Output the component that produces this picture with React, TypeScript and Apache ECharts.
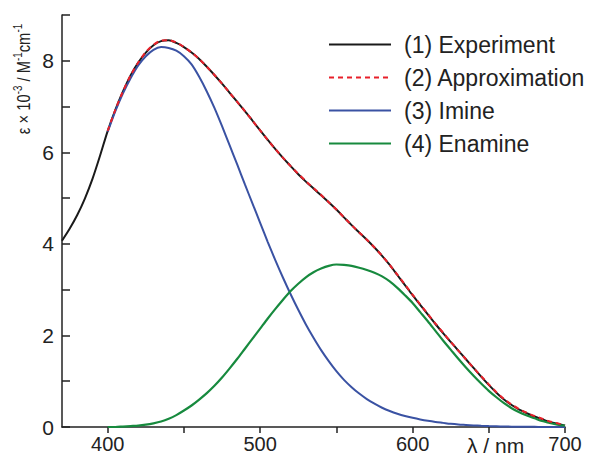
import React, { useEffect, useRef } from 'react';
import * as echarts from 'echarts';

// Wavelengths (nm), 5 nm steps
const expWavelengths = [370, 375, 380, 385, 390, 395, 400, 405, 410, 415, 420, 425, 430, 435, 440, 445, 450, 455, 460, 465, 470, 475, 480, 485, 490, 495, 500, 505, 510, 515, 520, 525, 530, 535, 540, 545, 550, 555, 560, 565, 570, 575, 580, 585, 590, 595, 600, 605, 610, 615, 620, 625, 630, 635, 640, 645, 650, 655, 660, 665, 670, 675, 680, 685, 690, 695, 700];
const experiment = [4.07, 4.33, 4.63, 4.99, 5.42, 5.93, 6.47, 6.93, 7.33, 7.68, 7.96, 8.18, 8.34, 8.43, 8.45, 8.39, 8.30, 8.18, 8.04, 7.87, 7.69, 7.50, 7.30, 7.10, 6.90, 6.69, 6.48, 6.27, 6.07, 5.88, 5.70, 5.52, 5.36, 5.21, 5.06, 4.91, 4.75, 4.58, 4.41, 4.25, 4.09, 3.92, 3.74, 3.54, 3.32, 3.10, 2.88, 2.67, 2.46, 2.25, 2.05, 1.86, 1.67, 1.48, 1.29, 1.10, 0.92, 0.75, 0.60, 0.48, 0.38, 0.30, 0.23, 0.17, 0.11, 0.07, 0.03];

const approxWavelengths = [400, 405, 410, 415, 420, 425, 430, 435, 440, 445, 450, 455, 460, 465, 470, 475, 480, 485, 490, 495, 500, 505, 510, 515, 520, 525, 530, 535, 540, 545, 550, 555, 560, 565, 570, 575, 580, 585, 590, 595, 600, 605, 610, 615, 620, 625, 630, 635, 640, 645, 650, 655, 660, 665, 670, 675, 680, 685, 690, 695, 700];
const approximation = [6.47, 6.93, 7.33, 7.68, 7.96, 8.19, 8.35, 8.44, 8.45, 8.40, 8.30, 8.18, 8.04, 7.87, 7.69, 7.50, 7.30, 7.10, 6.90, 6.69, 6.48, 6.27, 6.07, 5.88, 5.70, 5.53, 5.37, 5.22, 5.07, 4.91, 4.75, 4.58, 4.41, 4.25, 4.09, 3.92, 3.74, 3.54, 3.33, 3.11, 2.89, 2.68, 2.47, 2.26, 2.06, 1.86, 1.67, 1.48, 1.29, 1.11, 0.93, 0.76, 0.61, 0.49, 0.39, 0.31, 0.24, 0.18, 0.12, 0.08, 0.04];

const imineWavelengths = approxWavelengths;
const imine = [6.45, 6.90, 7.29, 7.62, 7.90, 8.10, 8.24, 8.30, 8.28, 8.22, 8.10, 7.92, 7.65, 7.33, 6.97, 6.57, 6.15, 5.73, 5.30, 4.88, 4.46, 4.04, 3.64, 3.26, 2.90, 2.56, 2.24, 1.95, 1.68, 1.44, 1.22, 1.03, 0.87, 0.73, 0.61, 0.51, 0.42, 0.35, 0.29, 0.24, 0.20, 0.165, 0.135, 0.11, 0.09, 0.07, 0.055, 0.045, 0.035, 0.027, 0.02, 0.015, 0.011, 0.008, 0.006, 0.004, 0.003, 0.002, 0.001, 0.001, 0.0];

const enamineWavelengths = approxWavelengths;
const enamine = [0.00, 0.00, 0.01, 0.02, 0.03, 0.05, 0.08, 0.12, 0.18, 0.26, 0.36, 0.47, 0.60, 0.74, 0.90, 1.08, 1.28, 1.49, 1.71, 1.93, 2.15, 2.37, 2.58, 2.78, 2.97, 3.13, 3.27, 3.38, 3.46, 3.52, 3.55, 3.54, 3.52, 3.48, 3.43, 3.37, 3.29, 3.18, 3.04, 2.88, 2.71, 2.51, 2.31, 2.10, 1.89, 1.69, 1.49, 1.30, 1.12, 0.95, 0.79, 0.65, 0.52, 0.41, 0.32, 0.25, 0.19, 0.13, 0.09, 0.05, 0.03];

const seriesNames = ['(1) Experiment', '(2) Approximation', '(3) Imine', '(4) Enamine'];
const xTickValues = [400, 450, 500, 550, 600, 650, 700];
const xLabelValues = [400, 500, 600, 700];

const FONT = '"Liberation Sans", Arial, Helvetica, sans-serif';

const pairs = (xs: number[], ys: number[]) => xs.map((x, i) => [x, ys[i]]);

export default function App() {
  const ref = useRef<HTMLDivElement>(null);
  useEffect(() => {
    const chart = echarts.init(ref.current!, null, { renderer: 'svg' });
    chart.setOption({
      animation: false,
      backgroundColor: '#ffffff',
      grid: { left: 62, right: 42, top: 15, bottom: 34, containLabel: false },
      legend: {
        orient: 'vertical',
        left: 328,
        top: 33,
        itemWidth: 62,
        itemHeight: 14,
        itemGap: 10,
        padding: 0,
        data: seriesNames,
        itemStyle: { opacity: 0 },
        textStyle: { fontSize: 23, color: '#222', fontFamily: FONT, padding: [0, 0, 0, 8] },
      },
      xAxis: {
        type: 'value',
        min: 370,
        max: 700,
        name: 'λ / nm',
        nameLocation: 'end',
        nameGap: -98,
        nameTextStyle: { fontSize: 21, color: '#222', fontFamily: FONT, align: 'left', verticalAlign: 'top', padding: [8, 0, 0, 0] },
        splitLine: { show: false },
        axisLine: { lineStyle: { color: '#222', width: 1.5 } },
        axisTick: { inside: false, length: 6, lineStyle: { color: '#222', width: 1.5 }, customValues: xTickValues },
        axisLabel: { fontSize: 20, color: '#222', fontFamily: FONT, margin: 7, customValues: xLabelValues },
      },
      yAxis: {
        type: 'value',
        min: 0,
        max: 9,
        interval: 1,
        splitLine: { show: false },
        axisLine: { show: true, lineStyle: { color: '#222', width: 1.5 } },
        axisTick: { show: true, inside: true, length: 8, lineStyle: { color: '#222', width: 1.5 } },
        axisLabel: {
          fontSize: 21,
          color: '#222',
          fontFamily: FONT,
          margin: 8,
          formatter: (v: number) => (v % 2 === 0 ? String(v) : ''),
        },
      },
      graphic: [
        {
          type: 'text',
          x: 23,
          y: 79,
          rotation: Math.PI / 2,
          scaleX: 0.82,
          scaleY: 1,
          style: {
            text: 'ε × 10{sup|-3} / M{sup|-1}cm{sup|-1}',
            fontSize: 18,
            fontFamily: FONT,
            fill: '#222',
            align: 'center',
            verticalAlign: 'middle',
            lineHeight: 22,
            rich: {
              sup: { fontSize: 12, fontFamily: FONT, fill: '#222', verticalAlign: 'top', lineHeight: 22 },
            },
          },
        },
      ],
      series: [
        {
          name: seriesNames[0],
          type: 'line',
          data: pairs(expWavelengths, experiment),
          symbol: 'none',
          smooth: 0.3,
          z: 2,
          lineStyle: { color: '#1a1a1a', width: 2 },
          itemStyle: { color: '#1a1a1a' },
        },
        {
          name: seriesNames[1],
          type: 'line',
          data: pairs(approxWavelengths, approximation),
          symbol: 'none',
          smooth: 0.3,
          z: 5,
          lineStyle: { color: '#e8202a', width: 2, type: [5, 4] },
          itemStyle: { color: '#e8202a' },
        },
        {
          name: seriesNames[2],
          type: 'line',
          data: pairs(imineWavelengths, imine),
          symbol: 'none',
          smooth: 0.3,
          z: 3,
          lineStyle: { color: '#3a52a3', width: 2 },
          itemStyle: { color: '#3a52a3' },
        },
        {
          name: seriesNames[3],
          type: 'line',
          data: pairs(enamineWavelengths, enamine),
          symbol: 'none',
          smooth: 0.3,
          z: 3,
          lineStyle: { color: '#178a3e', width: 2.2 },
          itemStyle: { color: '#178a3e' },
        },
      ],
    });
    return () => chart.dispose();
  }, []);
  return <div ref={ref} style={{ position: 'fixed', left: 0, top: 0, width: 607, height: 461 }} />;
}
